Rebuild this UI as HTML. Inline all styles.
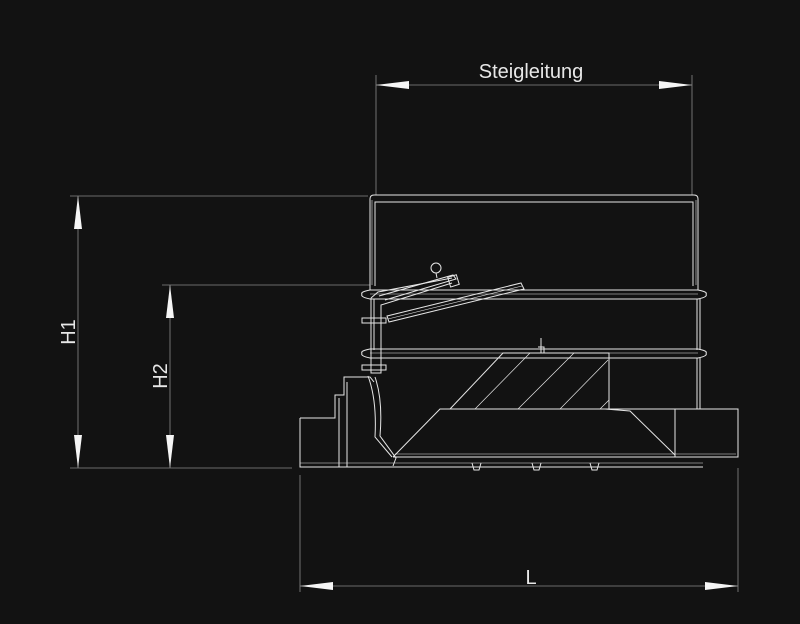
<!DOCTYPE html>
<html><head><meta charset="utf-8"><style>
html,body{margin:0;padding:0;background:#121212;width:800px;height:624px;overflow:hidden}
svg{display:block}
text{font-family:"Liberation Sans",sans-serif;fill:#e8e8e8}
</style></head><body>
<svg width="800" height="624" viewBox="0 0 800 624" xmlns="http://www.w3.org/2000/svg">
<rect width="800" height="624" fill="#121212"/>
<!-- dimension/extension lines -->
<g stroke="#8a8a8a" stroke-width="0.8" fill="none">
<line x1="376" y1="75" x2="376" y2="195"/>
<line x1="692" y1="75" x2="692" y2="195"/>
<line x1="376" y1="85" x2="692" y2="85"/>
<line x1="70" y1="196" x2="368" y2="196"/>
<line x1="78" y1="196" x2="78" y2="468"/>
<line x1="162" y1="285" x2="370" y2="285"/>
<line x1="170" y1="285" x2="170" y2="468"/>
<line x1="70" y1="468" x2="292" y2="468"/>
<line x1="300" y1="475" x2="300" y2="592"/>
<line x1="738" y1="468" x2="738" y2="592"/>
<line x1="300" y1="586" x2="738" y2="586"/>
</g>
<g fill="#f5f5f5">
<polygon points="376,85 409,81 409,89"/>
<polygon points="692,85 659,81 659,89"/>
<polygon points="78,196 74,229 82,229"/>
<polygon points="78,468 74,435 82,435"/>
<polygon points="170,285 166,318 174,318"/>
<polygon points="170,468 166,435 174,435"/>
<polygon points="300,586 333,582 333,590"/>
<polygon points="738,586 705,582 705,590"/>
</g>
<text x="531" y="78" font-size="20" text-anchor="middle">Steigleitung</text>
<text x="531" y="584" font-size="20" text-anchor="middle">L</text>
<text transform="translate(75,332) rotate(-90)" font-size="20" text-anchor="middle">H1</text>
<text transform="translate(167,376) rotate(-90)" font-size="20" text-anchor="middle">H2</text>
<!-- drawing -->
<g stroke="#e6e6e6" stroke-width="1" fill="none">
<!-- upper container -->
<path d="M370,290 L370,199 Q370,195 374,195 L694,195 Q698,195 698,199 L698,290"/>
<path d="M375,286 L375,202 L693,202 L693,286"/>
<line x1="372" y1="200" x2="372" y2="285" stroke-width="0.6"/>
<line x1="696" y1="200" x2="696" y2="285" stroke-width="0.6"/>
<!-- band 1 -->
<path d="M362,294 Q360,292 370,290 L698,290 Q708,292 706,294 Q708,297 698,299 L370,299 Q360,297 362,294Z"/>
<line x1="370" y1="294" x2="698" y2="294" stroke-width="0.6"/>
<!-- mid walls -->
<line x1="374" y1="299" x2="374" y2="350"/>
<line x1="697" y1="299" x2="697" y2="350"/>
<line x1="700" y1="299" x2="700" y2="350"/>
<!-- band 2 -->
<path d="M362,353 Q360,351 370,349 L698,349 Q708,351 706,353 Q708,356 698,358 L370,358 Q360,356 362,353Z"/>
<line x1="370" y1="353" x2="698" y2="353" stroke-width="0.6"/>
<line x1="697" y1="358" x2="697" y2="409"/>
<line x1="700" y1="358" x2="700" y2="409"/>
<!-- lever arm -->
<path d="M371,298 L371,373 L381,373 L381,305 L452,283"/>
<path d="M371,298 L378,292 L452,278"/>
<path d="M379,296 L453,275 L456,279 L385,300"/>
<rect x="449" y="276" width="9" height="10" transform="rotate(-17 453 281)"/>
<circle cx="436" cy="268" r="5"/>
<line x1="436" y1="273" x2="437" y2="278"/>
<path d="M387,316 L521,283 L524,289 L389,322 Z"/>
<line x1="388" y1="319" x2="522" y2="286" stroke-width="0.6"/>
<rect x="362" y="318" width="24" height="5"/>
<rect x="362" y="365" width="24" height="5"/>
<!-- left base / step box -->
<path d="M300,418 L335,418 L335,395 L344,395 L344,377 L370,377 L374,382"/>
<path d="M347,382 L347,467"/>
<line x1="339" y1="398" x2="339" y2="467"/>
<path d="M300,418 L300,467 L703,467"/>
<line x1="300" y1="463" x2="703" y2="463" stroke-width="0.6"/>
<!-- curved funnel wall -->
<path d="M368,376 Q377,400 375,437 L392,457"/>
<path d="M375,377 Q383,400 380,436 L396,458 L393,466"/>
<!-- housing -->
<path d="M393,457 L440,409 L738,409 L738,457 L393,457"/>
<line x1="395" y1="454" x2="736" y2="454" stroke-width="0.6"/>
<line x1="675" y1="409" x2="675" y2="457"/>
<path d="M605,409 L630,411 L675,455"/>
<path d="M450,409 L503,353 L609,353 L609,409"/>
<line x1="475" y1="409" x2="530" y2="353" stroke-width="0.7"/>
<line x1="518" y1="409" x2="574" y2="353" stroke-width="0.7"/>
<line x1="560" y1="409" x2="608" y2="360" stroke-width="0.7"/>
<line x1="600" y1="409" x2="609" y2="400" stroke-width="0.7"/>
<path d="M541,353 L541,338 M538,347 L544,347 L544,353"/>
<!-- feet -->
<path d="M472,463 L474,470 L479,470 L481,463"/>
<path d="M532,463 L534,470 L539,470 L541,463"/>
<path d="M590,463 L592,470 L597,470 L599,463"/>
</g>
</svg>
</body></html>
